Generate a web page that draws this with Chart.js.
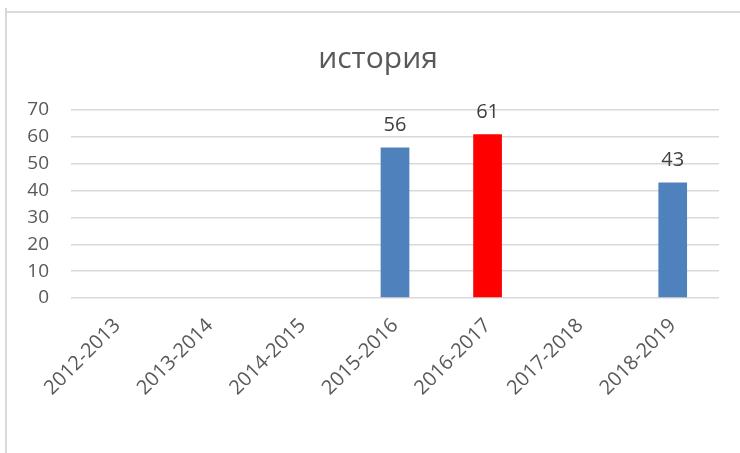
<!DOCTYPE html>
<html><head><meta charset="utf-8">
<script src="https://cdn.jsdelivr.net/npm/chart.js@4/dist/chart.umd.min.js"></script>
<style>html,body{margin:0;padding:0;background:#fff}#wrap{width:740px;height:453px;position:relative}</style>
</head><body><div id="wrap"><canvas id="c" width="740" height="453"></canvas></div>
<script>
const chartTitle = "история";
const categories = ["2012-2013","2013-2014","2014-2015","2015-2016","2016-2017","2017-2018","2018-2019"];
const values = [null, null, null, 56, 61, null, 43];
const barColors = ["#4f81bd","#4f81bd","#4f81bd","#4f81bd","#ff0000","#4f81bd","#4f81bd"];
const yTicks = [0,10,20,30,40,50,60,70];

const FONT = "'Open Sans', 'DejaVu Sans', sans-serif";

const framePlugin = {
  id: 'frame',
  beforeDraw(chart) {
    const ctx = chart.ctx;
    ctx.save();
    ctx.fillStyle = '#fff';
    ctx.fillRect(0,0,chart.width,chart.height);
    ctx.strokeStyle = '#d9d9d9';
    ctx.lineWidth = 2;
    ctx.beginPath();
    ctx.moveTo(6, 8); ctx.lineTo(6, chart.height);
    ctx.moveTo(7, 12); ctx.lineTo(chart.width, 12);
    ctx.stroke();
    // title
    ctx.font = "30px " + FONT;
    ctx.fillStyle = '#595959';
    ctx.textAlign = 'center';
    ctx.textBaseline = 'alphabetic';
    ctx.fillText(chartTitle, 378, 68);
    ctx.restore();
  }
};

const labelPlugin = {
  id: 'barLabels',
  afterDatasetsDraw(chart) {
    const ctx = chart.ctx;
    const meta = chart.getDatasetMeta(0);
    ctx.save();
    ctx.font = "20px " + FONT;
    ctx.fillStyle = '#404040';
    ctx.textAlign = 'center';
    ctx.textBaseline = 'bottom';
    meta.data.forEach((el, i) => {
      const v = values[i];
      if (v === null || v === undefined) return;
      ctx.fillText(String(v), el.x, el.y - 12);
    });
    ctx.restore();
  }
};

new Chart(document.getElementById('c'), {
  type: 'bar',
  data: {
    labels: categories,
    datasets: [{
      data: values,
      backgroundColor: barColors,
      borderWidth: 0,
      barPercentage: 0.31,
      categoryPercentage: 1.0
    }]
  },
  options: {
    responsive: false,
    animation: false,
    devicePixelRatio: 1,
    layout: { padding: { left: 0, right: 21, top: 110, bottom: 0 } },
    plugins: {
      legend: { display: false },
      tooltip: { enabled: false },
      title: { display: false }
    },
    scales: {
      x: {
        grid: { display: false },
        border: { display: false },
        ticks: {
          color: '#595959',
          font: { family: FONT, size: 20 },
          minRotation: 45,
          maxRotation: 45,
          padding: 8,
          autoSkip: false
        },
        afterFit(scale) { scale.height = 155; }
      },
      y: {
        min: 0,
        max: 70,
        afterBuildTicks(scale) { scale.ticks = yTicks.map(v => ({ value: v })); },
        grid: { color: '#d9d9d9', lineWidth: 1.5, drawTicks: false },
        border: { display: false },
        ticks: {
          color: '#595959',
          font: { family: FONT, size: 19 },
          padding: 22
        },
        afterFit(scale) { scale.width = 71; }
      }
    }
  },
  plugins: [framePlugin, labelPlugin]
});
</script>
</body></html>
